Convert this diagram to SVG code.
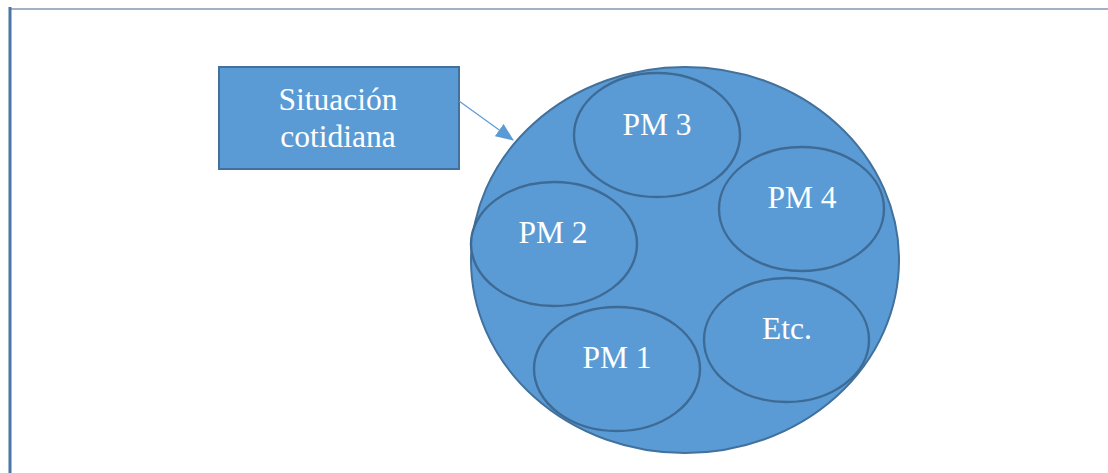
<svg xmlns="http://www.w3.org/2000/svg" width="1108" height="473" viewBox="0 0 1108 473">
<style>
.shape{fill:#5B9BD5;stroke:#41719C;stroke-width:2}
.sub{fill:#5B9BD5;stroke:#3E6B95;stroke-width:2.4}
.lbl{font-family:"Liberation Serif",serif;font-size:31.5px;fill:#fff;text-anchor:middle}
</style>
<defs>
<marker id="ah2" markerWidth="18" markerHeight="15" refX="17" refY="7.5" orient="auto" markerUnits="userSpaceOnUse" viewBox="0 0 18 15">
<path d="M0,0 L18,7.5 L0,15 Z" fill="#5B9BD5"/>
</marker>
</defs>
<rect width="1108" height="473" fill="#fff"/>
<g id="frame">
<line x1="10" y1="9" x2="1108" y2="9" stroke="#8497B0" stroke-width="1.5"/>
<line x1="10" y1="7" x2="10" y2="473" stroke="#4A76A8" stroke-width="3"/>
</g>
<g id="node-situacion">
<rect class="shape" x="219" y="67" width="240" height="102"/>
<text class="lbl" x="338" y="110">Situación</text>
<text class="lbl" x="338" y="147">cotidiana</text>
</g>
<g id="node-big">
<ellipse class="shape" cx="685" cy="260" rx="214" ry="193"/>
</g>
<g id="node-pm3">
<ellipse class="sub" cx="657" cy="135" rx="83" ry="62"/>
<text class="lbl" x="657" y="135">PM 3</text>
</g>
<g id="node-pm4">
<ellipse class="sub" cx="801.5" cy="209" rx="82.5" ry="62"/>
<text class="lbl" x="802" y="208">PM 4</text>
</g>
<g id="node-pm2">
<ellipse class="sub" cx="554" cy="244" rx="83" ry="62"/>
<text class="lbl" x="553" y="243">PM 2</text>
</g>
<g id="node-pm1">
<ellipse class="sub" cx="617" cy="369" rx="83" ry="62"/>
<text class="lbl" x="617" y="368">PM 1</text>
</g>
<g id="node-etc">
<ellipse class="sub" cx="786.5" cy="340" rx="82.5" ry="62"/>
<text class="lbl" x="787" y="339">Etc.</text>
</g>
<g id="connectors">
<line x1="459" y1="101" x2="513" y2="140" stroke="#5B9BD5" stroke-width="1.2" marker-end="url(#ah2)"/>
</g>
</svg>
